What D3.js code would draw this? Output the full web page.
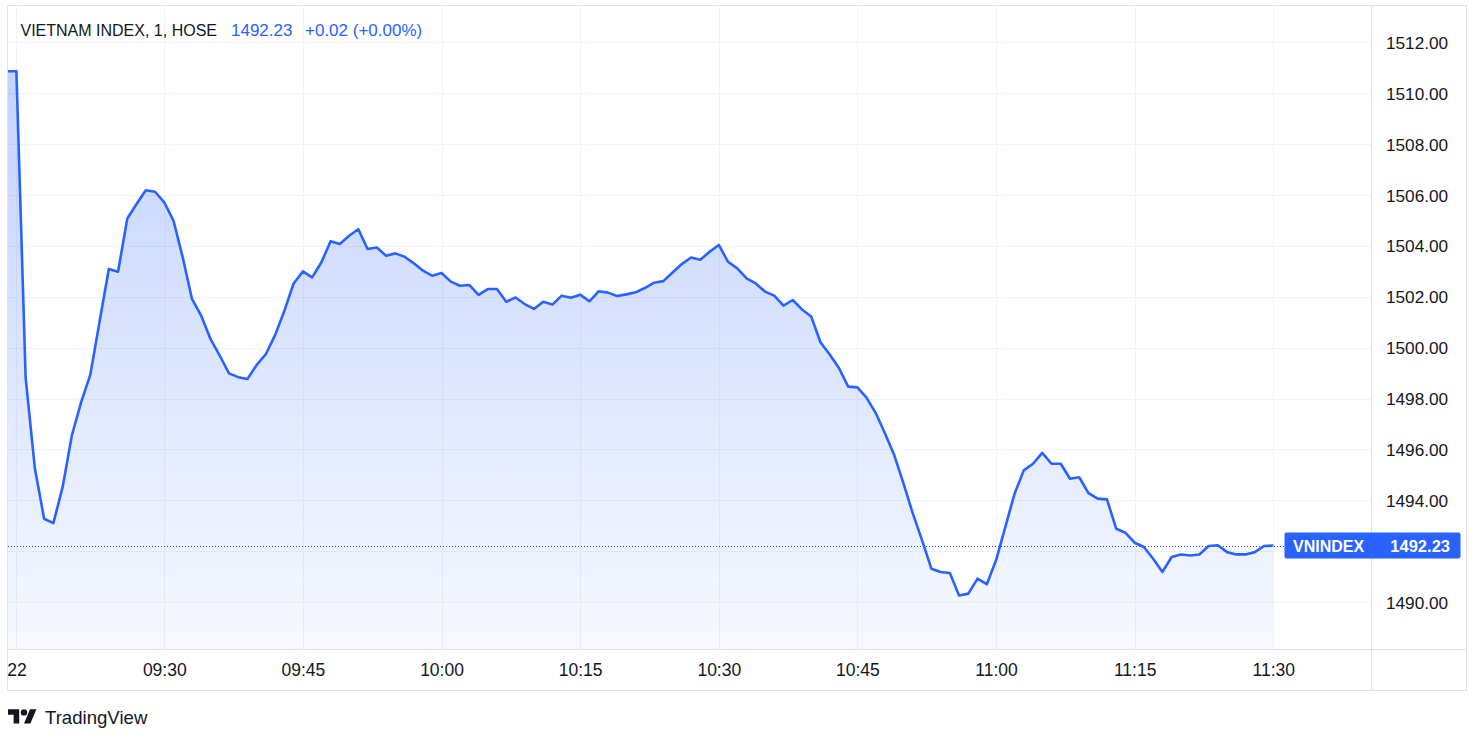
<!DOCTYPE html>
<html>
<head>
<meta charset="utf-8">
<script src="https://cdn.jsdelivr.net/npm/d3@7"></script>
<style>
  body { margin: 0; background: #fff; }
  svg { display: block; font-family: "Liberation Sans", Arial, sans-serif; }
</style>
</head>
<body>
<div id="chart"></div>
<script>
// 1-minute closes, VNINDEX, from 09:14 to 11:30
let startTime = "09:14";
let prevClose = 1510.85;
let closes = [
  1510.85, 1498.82, 1495.25, 1493.28, 1493.11, 1494.52, 1496.55, 1497.85, 1498.94, 1501.02,
  1503.09, 1502.98, 1505.07, 1505.64, 1506.18, 1506.12, 1505.70, 1504.98, 1503.54, 1501.91,
  1501.25, 1500.34, 1499.69, 1498.99, 1498.84, 1498.77, 1499.32, 1499.75, 1500.50, 1501.45,
  1502.52, 1502.99, 1502.76, 1503.35, 1504.18, 1504.07, 1504.39, 1504.65, 1503.87, 1503.93,
  1503.61, 1503.70, 1503.57, 1503.31, 1503.02, 1502.82, 1502.93, 1502.59, 1502.43, 1502.46,
  1502.07, 1502.30, 1502.30, 1501.80, 1501.97, 1501.71, 1501.52, 1501.80, 1501.69, 1502.04,
  1501.96, 1502.08, 1501.82, 1502.21, 1502.16, 1502.03, 1502.09, 1502.17, 1502.34, 1502.55,
  1502.61, 1502.95, 1503.28, 1503.54, 1503.45, 1503.76, 1504.03, 1503.37, 1503.11, 1502.72,
  1502.52, 1502.20, 1502.04, 1501.65, 1501.87, 1501.50, 1501.22, 1500.21, 1499.73, 1499.20,
  1498.47, 1498.44, 1498.03, 1497.42, 1496.62, 1495.76, 1494.65, 1493.48, 1492.43, 1491.32,
  1491.19, 1491.15, 1490.27, 1490.34, 1490.93, 1490.71, 1491.65, 1492.95, 1494.26, 1495.18,
  1495.44, 1495.87, 1495.44, 1495.44, 1494.85, 1494.91, 1494.29, 1494.07, 1494.04, 1492.89,
  1492.73, 1492.34, 1492.17, 1491.71, 1491.19, 1491.78, 1491.88, 1491.84, 1491.88, 1492.21,
  1492.24, 1491.97, 1491.88, 1491.88, 1491.97, 1492.21, 1492.23
];
let priceTicks = [1490, 1492, 1494, 1496, 1498, 1500, 1502, 1504, 1506, 1508, 1510, 1512];
let timeTicks = ["09:14", "09:30", "09:45", "10:00", "10:15", "10:30", "10:45", "11:00", "11:15", "11:30"];
let timeTickLabels = ["22", "09:30", "09:45", "10:00", "10:15", "10:30", "10:45", "11:00", "11:15", "11:30"];
let symbolTitle = "VIETNAM INDEX, 1, HOSE";
let symbolShort = "VNINDEX";
let lastPrice = "1492.23";
let change = "+0.02 (+0.00%)";

let parseTime = d3.timeParse("%H:%M");
let t0 = parseTime(startTime);
let data = closes.map((v, i) => ({ time: d3.timeMinute.offset(t0, i), value: v }));
// previous session's last bar sits one bar to the left (clipped)
data.unshift({ time: d3.timeMinute.offset(t0, -1), value: prevClose });

let W = 1482, H = 744;
let pane = { left: 8, right: 1371, top: 6, bottom: 649 };
let frame = { left: 7.5, right: 1466.5, top: 5.5, bottom: 690.5 };

let blue = "#2962ff";
let textColor = "#131722";
let gridColor = "#f0f3fa";
let borderColor = "#e0e3eb";

let svg = d3.select("#chart").append("svg")
  .attr("width", W)
  .attr("height", H);

let x = d3.scaleTime()
  .domain([parseTime("09:14"), parseTime("11:30")])
  .range([16.4, 1273.3]);
let y = d3.scaleLinear()
  .domain([1490, 1512])
  .range([602.3, 42]);

// clip to the price pane
svg.append("clipPath").attr("id", "paneClip")
  .append("rect")
  .attr("x", pane.left).attr("y", pane.top)
  .attr("width", pane.right - pane.left).attr("height", pane.bottom - pane.top);

// grid
let grid = svg.append("g").attr("clip-path", "url(#paneClip)");
grid.selectAll("line.h")
  .data(priceTicks)
  .join("line")
  .attr("class", "h")
  .attr("x1", pane.left).attr("x2", pane.right)
  .attr("y1", d => Math.round(y(d)) + 0.5).attr("y2", d => Math.round(y(d)) + 0.5)
  .attr("stroke", gridColor);
grid.selectAll("line.v")
  .data(timeTicks)
  .join("line")
  .attr("class", "v")
  .attr("x1", d => Math.round(x(parseTime(d))) + 0.5).attr("x2", d => Math.round(x(parseTime(d))) + 0.5)
  .attr("y1", pane.top).attr("y2", pane.bottom)
  .attr("stroke", gridColor);

// area gradient
let defs = svg.append("defs");
let grad = defs.append("linearGradient")
  .attr("id", "areaGrad")
  .attr("gradientUnits", "userSpaceOnUse")
  .attr("x1", 0).attr("x2", 0)
  .attr("y1", y(d3.max(closes))).attr("y2", pane.bottom);
grad.append("stop").attr("offset", "0%").attr("stop-color", blue).attr("stop-opacity", 0.28);
grad.append("stop").attr("offset", "100%").attr("stop-color", blue).attr("stop-opacity", 0.04);

let plot = svg.append("g").attr("clip-path", "url(#paneClip)");

let area = d3.area()
  .x(d => x(d.time))
  .y0(pane.bottom)
  .y1(d => y(d.value));
let line = d3.line()
  .x(d => x(d.time))
  .y(d => y(d.value));

plot.append("path")
  .datum(data)
  .attr("fill", "url(#areaGrad)")
  .attr("d", area);

// last price dotted line
let last = data[data.length - 1];
plot.append("line")
  .attr("x1", pane.left).attr("x2", pane.right)
  .attr("y1", Math.round(y(last.value)) + 0.5).attr("y2", Math.round(y(last.value)) + 0.5)
  .attr("stroke", "#2a4fa8")
  .attr("stroke-width", 1)
  .attr("stroke-dasharray", "1,2");

plot.append("path")
  .datum(data)
  .attr("fill", "none")
  .attr("stroke", blue)
  .attr("stroke-width", 2.6)
  .attr("stroke-linejoin", "round")
  .attr("d", line);

// frame and separators
svg.append("rect")
  .attr("x", frame.left).attr("y", frame.top)
  .attr("width", frame.right - frame.left).attr("height", frame.bottom - frame.top)
  .attr("fill", "none").attr("stroke", borderColor);
svg.append("line")
  .attr("x1", pane.right + 0.5).attr("x2", pane.right + 0.5)
  .attr("y1", frame.top).attr("y2", frame.bottom)
  .attr("stroke", borderColor);
svg.append("line")
  .attr("x1", frame.left).attr("x2", frame.right)
  .attr("y1", pane.bottom + 0.5).attr("y2", pane.bottom + 0.5)
  .attr("stroke", borderColor);

// price axis
let yAxis = d3.axisRight(y)
  .tickValues(priceTicks.filter(d => d !== 1492))
  .tickFormat(d3.format(".2f"))
  .tickSize(0)
  .tickPadding(0);
let yAxisG = svg.append("g")
  .attr("transform", "translate(1386," + 0 + ")")
  .call(yAxis);
yAxisG.select(".domain").remove();
yAxisG.selectAll("text")
  .attr("font-size", 17.2)
  .attr("font-family", "Liberation Sans, Arial, sans-serif")
  .attr("fill", textColor)
  .attr("dy", "0.36em");

// time axis
let xAxis = d3.axisBottom(x)
  .tickValues(timeTicks.map(parseTime))
  .tickFormat((d, i) => timeTickLabels[i])
  .tickSize(0)
  .tickPadding(0);
let xAxisG = svg.append("g")
  .attr("transform", "translate(0," + 664 + ")")
  .call(xAxis);
xAxisG.select(".domain").remove();
xAxisG.selectAll("text")
  .attr("font-size", 17.5)
  .attr("font-family", "Liberation Sans, Arial, sans-serif")
  .attr("fill", textColor);

// legend header
let header = svg.append("text")
  .attr("x", 20.5)
  .attr("y", 36)
  .attr("font-size", 17);
header.append("tspan").attr("fill", textColor).attr("font-size", 16).text(symbolTitle);
header.append("tspan").attr("x", 231).attr("fill", blue).text(lastPrice);
header.append("tspan").attr("x", 305).attr("fill", blue).text(change);

// last price label
let labelG = svg.append("g");
labelG.append("rect")
  .attr("x", 1284.5).attr("y", y(last.value) - 13)
  .attr("width", 176).attr("height", 26)
  .attr("rx", 2)
  .attr("fill", blue);
labelG.append("text")
  .attr("x", 1293).attr("y", y(last.value) + 6)
  .attr("fill", "#fff").attr("font-size", 16).attr("font-weight", "bold")
  .text(symbolShort);
labelG.append("text")
  .attr("x", 1450).attr("y", y(last.value) + 6)
  .attr("text-anchor", "end")
  .attr("fill", "#fff").attr("font-size", 16.5).attr("font-weight", "bold")
  .text(lastPrice);

// TradingView attribution
let logo = svg.append("g").attr("transform", "translate(8,706) scale(0.8)");
logo.append("path")
  .attr("d", "M14 22H7V11H0V4h14v18zM28 22h-8l7.5-18h8L28 22z")
  .attr("fill", textColor);
logo.append("circle").attr("cx", 20).attr("cy", 8).attr("r", 4).attr("fill", textColor);
svg.append("text")
  .attr("x", 45).attr("y", 723.5)
  .attr("font-size", 18.6)
  .attr("fill", textColor)
  .text("TradingView");
</script>
</body>
</html>
